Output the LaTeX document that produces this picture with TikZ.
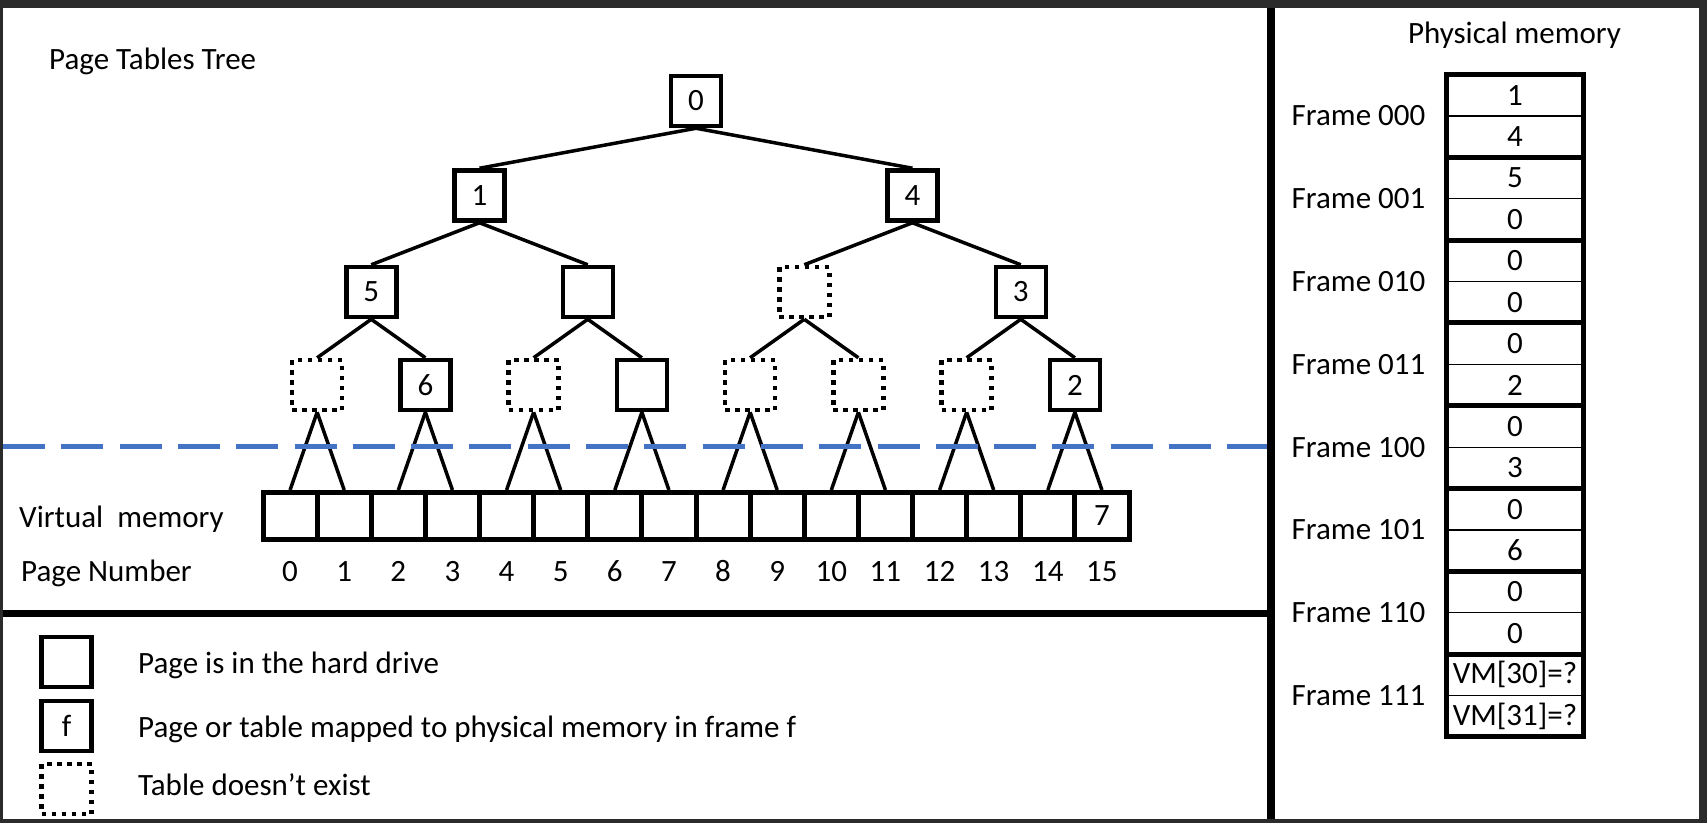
\documentclass[tikz,border=0pt]{standalone}
\usepackage{fontspec}
\setmainfont{Carlito}
\usetikzlibrary{calc}
\definecolor{dashblue}{HTML}{4472C4}

\begin{document}
\begin{tikzpicture}[x=1pt, y=-1pt, font=\fontsize{31}{37}\selectfont,
  box/.style={draw, line width=4.5pt, minimum size=50pt, inner sep=0pt},
  nobox/.style={box, dash pattern=on 4.5pt off 5.5pt},
  cell/.style={draw, line width=5pt, minimum width=54.125pt, minimum height=47pt, inner sep=0pt},
  frm/.style={draw, line width=5pt, minimum width=137pt, minimum height=82.8pt, inner sep=0pt},
  edge/.style={line width=3.5pt},
  lbl/.style={inner sep=0pt}]

\fill[black!83] (0,0) rectangle (1707,823);
\fill[white] (3,8) rectangle (1699,819);
\useasboundingbox (0,0) rectangle (1707,823);

\draw[line width=8pt] (1271,8) -- (1271,819);
\draw[line width=7pt] (3,613) -- (1271,613);

\node[lbl, anchor=base west] (title) at (49,69) {Page Tables Tree};

% tree of tables
\node[box] (root) at (696,101) {0};
\foreach \k/\s/\t in {0/box/1, 1/box/4}
  \node[\s] (a\k) at (479.5+433*\k,195.5) {\t};
\foreach \k/\s/\t in {0/box/5, 1/box/{}, 2/nobox/{}, 3/box/3}
  \node[\s] (b\k) at (371.25+216.5*\k,292) {\t};
\foreach \k/\s/\t in {0/nobox/{}, 1/box/6, 2/nobox/{}, 3/box/{}, 4/nobox/{}, 5/nobox/{}, 6/nobox/{}, 7/box/2}
  \node[\s] (c\k) at (317.125+108.25*\k,385) {\t};

% virtual memory
\foreach \i in {0,...,15} {
  \node[cell] (vm\i) at (290.0625+54.125*\i,516) {};
  \node[lbl, anchor=base] (pg\i) at (290.0625+54.125*\i,581) {\i};
}
\node[lbl] (seven) at (vm15) {7};

\foreach \k in {0,1} \draw[edge] (root.south) -- (a\k.north);
\foreach \k in {0,...,3} {
  \pgfmathtruncatemacro\p{\k/2}
  \draw[edge] (a\p.south) -- (b\k.north);
}
\foreach \k in {0,...,7} {
  \pgfmathtruncatemacro\p{\k/2}
  \pgfmathtruncatemacro\m{2*\k}
  \pgfmathtruncatemacro\n{2*\k+1}
  \draw[edge] (b\p.south) -- (c\k.north);
  \draw[edge] (c\k.south) -- (vm\m.north);
  \draw[edge] (c\k.south) -- (vm\n.north);
}

\draw[line width=5pt, dashblue, dash pattern=on 42pt off 16.3pt] (3,446) -- (1267,446);

\node[lbl, anchor=base west] (vmtext) at (19,527) {Virtual\ \ memory};
\node[lbl, anchor=base west] (pntext) at (21,581) {Page Number};

% physical memory
\node[lbl, anchor=base] (phys) at (1514.5,43) {Physical memory};
\foreach \j/\bits/\ua/\ub in {0/000/1/4, 1/001/5/0, 2/010/0/0, 3/011/0/2, 4/100/0/3, 5/101/0/6, 6/110/0/0, 7/111/{VM[30]=?}/{VM[31]=?}} {
  \node[frm] (fr\j) at (1515,115.9+82.8*\j) {};
  \draw[line width=1.2pt] (fr\j.west) -- (fr\j.east);
  \node[lbl] (up\j) at ($(fr\j.center)+(0,-20.7)$) {\ua};
  \node[lbl] (lo\j) at ($(fr\j.center)+(0,20.7)$) {\ub};
  \node[lbl, anchor=base east] (fl\j) at ($(fr\j.west)+(-18.5,10)$) {Frame \bits};
}

% legend
\node[box] (key1) at (66.5,662) {};
\node[box] (key2) at (66.5,726) {f};
\node[nobox] (key3) at (66.5,789) {};
\node[lbl, anchor=base west] (txt1) at (138,673) {Page is in the hard drive};
\node[lbl, anchor=base west] (txt2) at (138,737) {Page or table mapped to physical memory in frame f};
\node[lbl, anchor=base west] (txt3) at (138,795) {Table doesn't exist};

\end{tikzpicture}
\end{document}
